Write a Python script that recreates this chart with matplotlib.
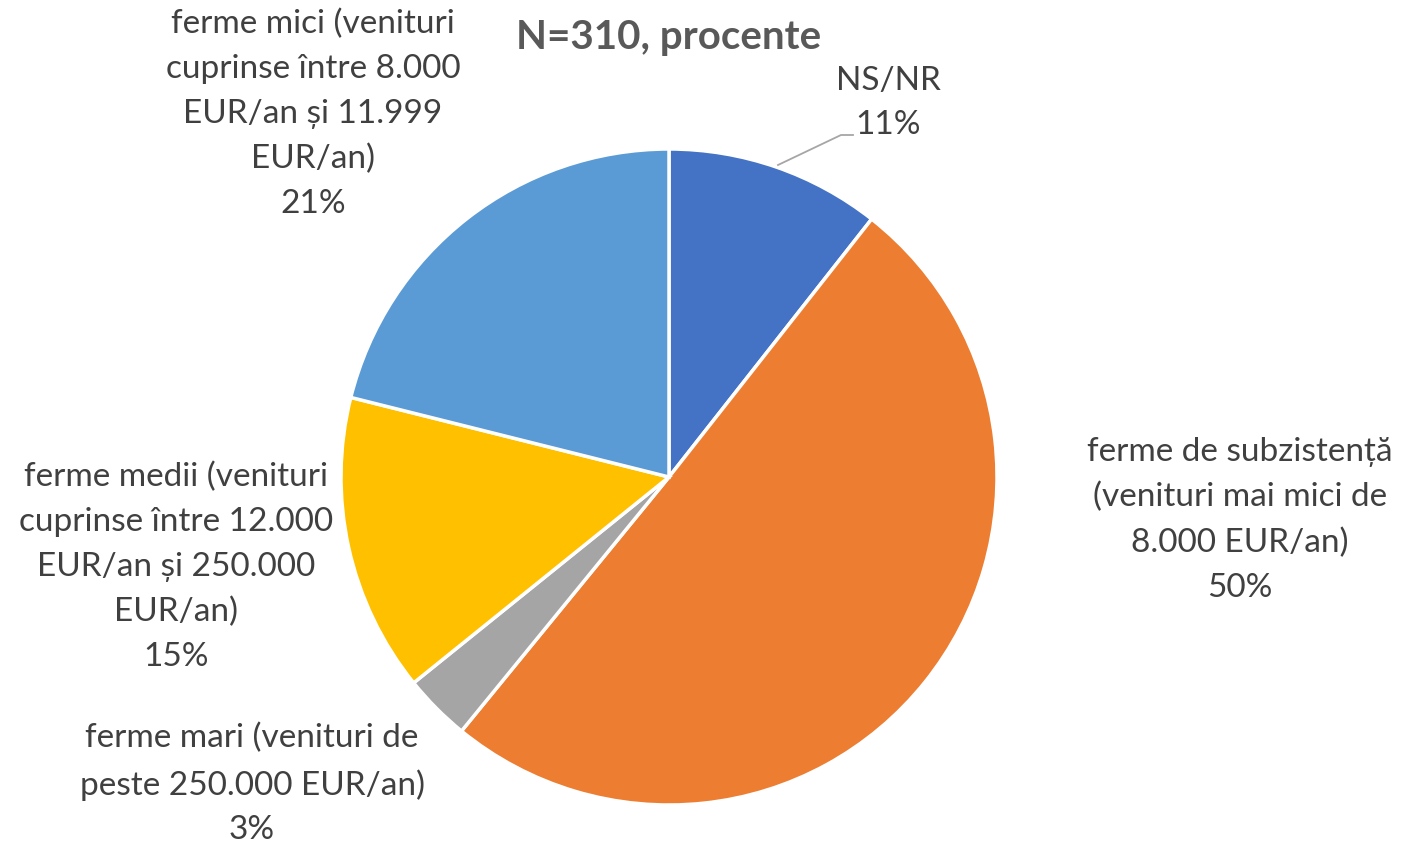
import matplotlib
matplotlib.use("Agg")
import matplotlib.pyplot as plt

categories = [
    "NS/NR",
    "ferme de subzistență\n(venituri mai mici de\n8.000 EUR/an)",
    "ferme mari (venituri de\npeste 250.000 EUR/an)",
    "ferme medii (venituri\ncuprinse între 12.000\nEUR/an și 250.000\nEUR/an)",
    "ferme mici (venituri\ncuprinse între 8.000\nEUR/an și 11.999\nEUR/an)",
]
values = [10.6, 50.3, 3.3, 14.7, 21.1]
pct_labels = ["11%", "50%", "3%", "15%", "21%"]
colors = ["#4472C4", "#ED7D31", "#A5A5A5", "#FFC000", "#5B9BD5"]
title = "N=310, procente"

W, H = 1401, 843
fig = plt.figure(figsize=(W / 100, H / 100), dpi=100)
ax = fig.add_axes([0, 0, 1, 1])

cx, cy, r = 669, H - 477, 328
ax.pie(values, colors=colors, startangle=90, counterclock=False,
       center=(cx, cy), radius=r, frame=True,
       wedgeprops=dict(edgecolor="white", linewidth=2.5))
ax.set_xlim(0, W)
ax.set_ylim(0, H)
ax.set_aspect("equal")
ax.axis("off")

font = "Lato"
fs = 24
txt_color = "#404040"
# label centers (pixels)
label_pos = [(888, 103), (1240, 520), (252, 784), (176, 567), (313, 114)]
for cat, pct, (px, py) in zip(categories, pct_labels, label_pos):
    ax.text(px, H - py, cat + "\n" + pct, ha="center", va="center",
            fontsize=fs, family=font, color=txt_color, linespacing=1.62)

# leader line for NS/NR
ax.plot([778, 841, 853], [H - 165, H - 135, H - 135], color="#A6A6A6", lw=1.3)

ax.text(669, H - 38, title, ha="center", va="center", fontsize=29,
        fontweight="bold", family=font, color="#595959")

fig.savefig("out.png", dpi=100)
